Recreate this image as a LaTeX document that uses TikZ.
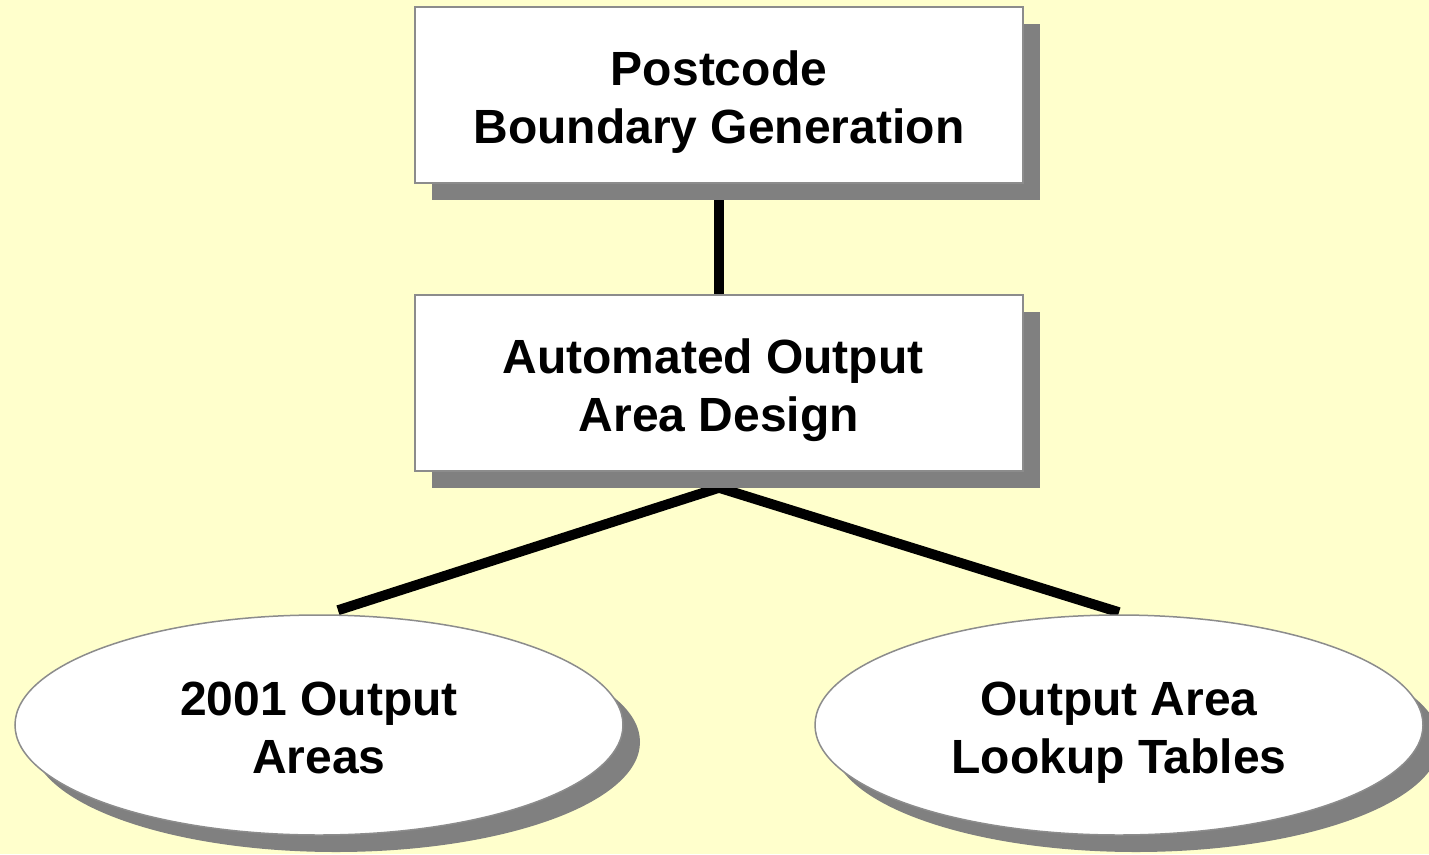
\documentclass[tikz,border=0pt]{standalone}
\usepackage{fontspec}
\setmainfont{Liberation Sans}
\usetikzlibrary{shapes.geometric,shadows,calc}
\definecolor{bgyellow}{HTML}{FFFFCC}
\definecolor{shadowgray}{HTML}{808080}
\definecolor{bordergray}{HTML}{8C8C8C}
\pgfdeclarelayer{bg}
\pgfdeclarelayer{lines}
\pgfsetlayers{bg,lines,main}
\newcommand{\twolines}[1]{\vbox{\kern16pt\hbox{\begin{tabular}{@{}c@{}}#1\end{tabular}}}}
\tikzset{
  diagtext/.style={font=\bfseries\fontsize{48}{58}\selectfont, text=black},
  shadowed/.style={drop shadow={shadow xshift=17pt, shadow yshift=-17pt, fill=shadowgray, opacity=1}},
  procbox/.style={diagtext, rectangle, draw=bordergray, line width=1.5pt, fill=white,
    minimum width=608pt, minimum height=176pt, inner sep=0pt, shadowed},
  outell/.style={diagtext, ellipse, draw=bordergray, line width=1.5pt, fill=white,
    minimum width=608pt, minimum height=220pt, inner sep=0pt, shadowed},
  link/.style={line width=10pt, black, line cap=butt}
}
\begin{document}
\begin{tikzpicture}[x=1pt, y=1pt]
\begin{pgfonlayer}{bg}
  \fill[bgyellow] (0,0) rectangle (1429,-854);
\end{pgfonlayer}
\useasboundingbox (0,0) rectangle (1429,-854);

\node[procbox] (pbg) at (719,-95) {\twolines{Postcode\\Boundary Generation}};
\node[procbox] (aoad) at (719,-383) {\twolines{Automated Output\rule{12pt}{0pt}\\Area Design}};
\node[outell] (oa) at (319,-725) {\twolines{2001 Output\\Areas}};
\node[outell] (lut) at (1119,-725) {\twolines{Output Area\\Lookup Tables}};

\coordinate (fork) at ($(aoad.south)+(0,-16)$);
\coordinate (oatop) at ($(oa.north)+(19,4)$);
\coordinate (luttop) at ($(lut.north)+(0,2)$);

\begin{pgfonlayer}{lines}
  \draw[link] (pbg.south) -- (aoad.north);
  \draw[link] (fork) -- (oatop);
  \draw[link] (fork) -- (luttop);
\end{pgfonlayer}
\end{tikzpicture}
\end{document}
